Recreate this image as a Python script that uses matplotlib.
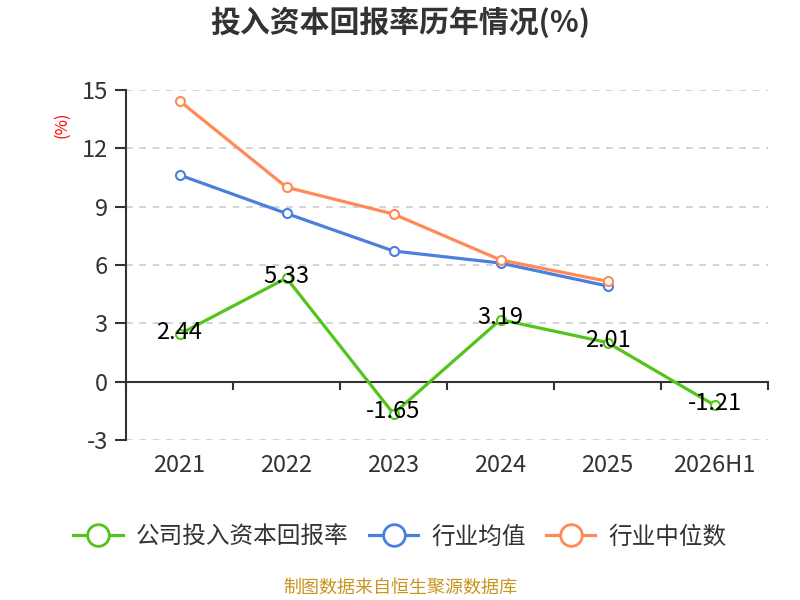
import matplotlib
matplotlib.use('Agg')
import matplotlib.pyplot as plt
import matplotlib.transforms as mtransforms

plt.rcParams['font.family'] = ['Noto Sans CJK SC', 'DejaVu Sans']
plt.rcParams['axes.unicode_minus'] = False

years = ['2021', '2022', '2023', '2024', '2025', '2026H1']
company = [2.44, 5.33, -1.65, 3.19, 2.01, -1.21]
industry_avg = [10.63, 8.65, 6.72, 6.10, 4.92]
industry_median = [14.44, 10.00, 8.62, 6.26, 5.16]

green = '#52c41a'
blue = '#4a7fe0'
orange = '#ff8a55'

fig = plt.figure(figsize=(8, 6), dpi=100)
ax = fig.add_axes([126 / 800, 1 - 440 / 600, 642 / 800, 350 / 600])

x = list(range(len(years)))
line_kw = dict(linewidth=2.3, marker='o', markersize=6.5,
               markerfacecolor='white', markeredgewidth=1.5, zorder=3)
ax.plot(x, company, color=green, label='公司投入资本回报率', **line_kw)
ax.plot(x[:len(industry_avg)], industry_avg, color=blue, label='行业均值', **line_kw)
ax.plot(x[:len(industry_median)], industry_median, color=orange, label='行业中位数', **line_kw)

for xi, v in zip(x, company):
    ax.text(xi, v + 0.1, f'{v:.2f}', ha='center', va='center', fontsize=17,
            color='black', zorder=4)

ax.set_xlim(-0.5, len(years) - 0.5)
ax.set_ylim(-3, 15)
ax.set_yticks(range(-3, 16, 3))
for yv in range(-3, 16, 3):
    if yv != 0:
        ax.axhline(yv, color='#cccccc', linewidth=1.2, linestyle=(0, (4, 4)), zorder=1)

for s in ['top', 'right']:
    ax.spines[s].set_visible(False)
ax.spines['left'].set_color('#333333')
ax.spines['left'].set_linewidth(1.5)
ax.spines['bottom'].set_position(('data', 0))
ax.spines['bottom'].set_color('#333333')
ax.spines['bottom'].set_linewidth(1.5)

ax.set_xticks([i - 0.5 for i in range(len(years) + 1)])
ax.set_xticklabels([])
ax.tick_params(axis='x', length=6, width=1.5, color='#333333', direction='out')
ax.tick_params(axis='y', length=8, width=1.5, color='#333333', direction='out',
               labelsize=17, labelcolor='#333333', pad=5)

trans = mtransforms.blended_transform_factory(ax.transData, ax.transAxes)
for xi, lab in zip(x, years):
    ax.text(xi, -0.072, lab, transform=trans, ha='center', va='center',
            fontsize=17, color='#333333')

ax.text(-0.1, 0.9, '(%)', transform=ax.transAxes, rotation=90, ha='center',
        va='center', fontsize=12, color='red')

fig.text(0.5, 1 - 22 / 600, '投入资本回报率历年情况(%)', ha='center', va='center',
         fontsize=21.5, fontweight='bold', color='#333333')

leg = fig.legend(loc='center', bbox_to_anchor=(0.5, 1 - 537 / 600), ncol=3,
                 frameon=False, fontsize=17, handlelength=2.1, columnspacing=0.85,
                 handletextpad=0.55, markerscale=2.4)
for t in leg.get_texts():
    t.set_color('#333333')
for h in leg.legend_handles:
    h.set_markeredgewidth(2)

fig.text(0.5, 1 - 588 / 600, '制图数据来自恒生聚源数据库', ha='center', va='center',
         fontsize=13, color='#c8961e')

fig.savefig('out.png', dpi=100)
